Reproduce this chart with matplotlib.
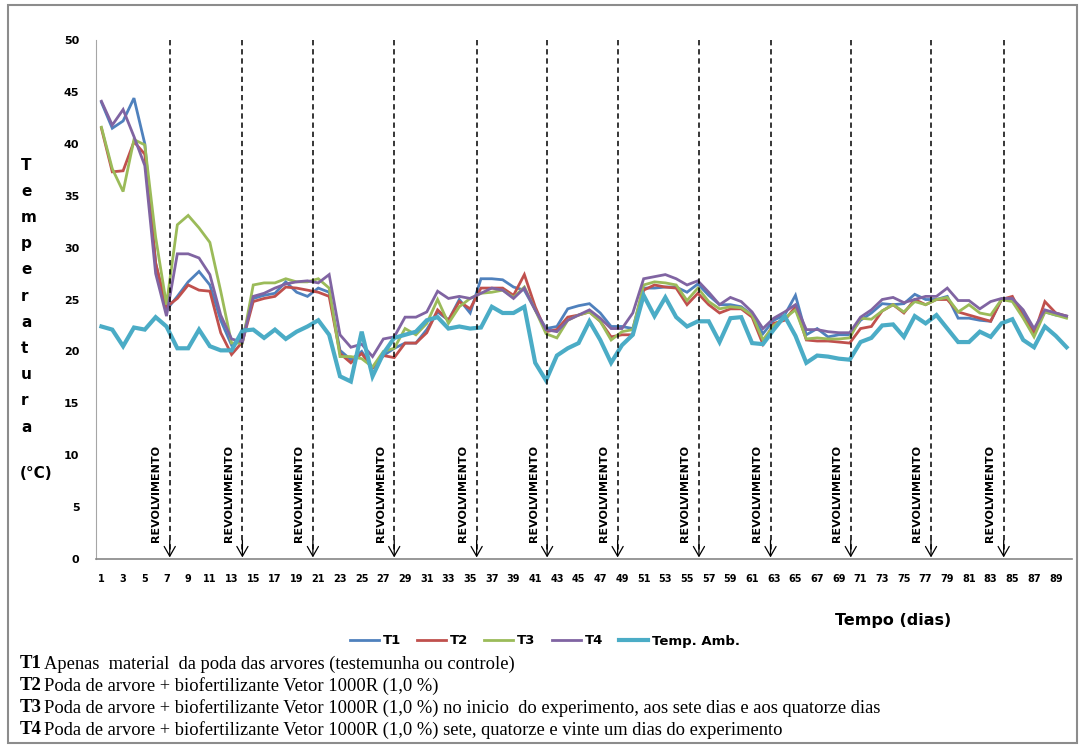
import matplotlib
matplotlib.use('Agg')
import matplotlib.pyplot as plt
from matplotlib.patches import Rectangle
import numpy as np

# dados de temperatura (dias 1 a 90)
dias = np.arange(1, 91)

t1 = [44.0, 41.5, 42.2, 44.4, 40.0, 28.5, 24.0, 25.3, 26.7, 27.7,
      26.4, 23.0, 20.6, 21.3, 25.1, 25.4, 25.6, 26.7, 25.7, 25.3,
      26.1, 25.7, 20.1, 19.2, 20.0, 18.4, 19.6, 20.3, 20.8, 20.8,
      22.1, 23.8, 23.0, 25.0, 23.7, 27.0, 27.0, 26.9, 26.2, 25.9,
      24.0, 22.2, 22.4, 24.1, 24.4, 24.6, 23.7, 22.4, 22.4, 22.2,
      26.1, 26.1, 26.2, 26.2, 25.7, 26.5, 25.4, 24.5, 24.5, 24.3,
      23.5, 21.7, 23.0, 23.5, 25.4, 21.6, 22.2, 21.4, 21.6, 21.6,
      23.0, 23.7, 24.6, 24.5, 24.6, 25.5, 25.0, 25.0, 25.3, 23.2,
      23.2, 23.0, 22.9, 25.0, 25.0, 23.7, 21.9, 23.8, 23.5, 23.4]

t2 = [41.5, 37.3, 37.4, 40.2, 39.0, 28.5, 24.3, 25.1, 26.4, 25.9,
      25.8, 21.8, 19.7, 20.9, 24.8, 25.1, 25.3, 26.2, 26.1, 25.9,
      25.7, 25.3, 19.8, 18.9, 19.8, 18.4, 19.6, 19.4, 20.8, 20.8,
      21.8, 24.0, 23.0, 24.8, 24.1, 26.1, 26.1, 26.1, 25.4, 27.4,
      24.3, 21.9, 22.1, 23.3, 23.5, 23.8, 22.9, 21.4, 21.6, 21.6,
      25.9, 26.4, 26.2, 26.1, 24.5, 25.6, 24.5, 23.7, 24.1, 24.1,
      23.3, 20.7, 22.7, 23.0, 24.3, 21.1, 21.0, 21.0, 20.9, 20.8,
      22.2, 22.4, 23.9, 24.5, 23.7, 25.0, 24.5, 25.0, 25.0, 23.8,
      23.5, 23.2, 22.9, 25.0, 25.3, 23.3, 21.7, 24.8, 23.7, 23.4]

t3 = [41.6, 37.6, 35.4, 40.4, 39.9, 31.0, 24.5, 32.2, 33.1, 31.9,
      30.5, 25.8, 20.8, 20.8, 26.4, 26.6, 26.6, 27.0, 26.7, 26.7,
      27.0, 26.1, 19.5, 19.5, 19.3, 18.5, 20.0, 20.3, 22.2, 21.6,
      22.7, 25.0, 22.7, 24.3, 25.1, 25.6, 25.7, 25.9, 25.2, 26.2,
      24.0, 21.7, 21.3, 23.0, 23.5, 23.8, 22.9, 21.1, 21.9, 22.1,
      26.4, 26.7, 26.6, 26.4, 24.9, 26.1, 24.8, 24.1, 24.3, 24.2,
      23.5, 21.1, 22.5, 23.2, 24.0, 21.2, 21.3, 21.2, 21.2, 21.3,
      23.2, 23.1, 23.9, 24.5, 23.8, 24.8, 24.5, 25.0, 25.2, 23.8,
      24.5, 23.7, 23.5, 25.0, 24.8, 23.2, 21.4, 23.8, 23.5, 23.2]

t4 = [44.1, 41.8, 43.3, 40.7, 37.9, 27.5, 23.4, 29.4, 29.4, 29.0,
      27.4, 23.5, 21.2, 20.9, 25.3, 25.6, 26.1, 26.5, 26.7, 26.8,
      26.6, 27.4, 21.6, 20.4, 20.7, 19.5, 21.2, 21.4, 23.3, 23.3,
      23.8, 25.8, 25.1, 25.3, 25.1, 25.6, 26.1, 25.9, 25.1, 26.1,
      24.0, 22.1, 21.9, 23.0, 23.5, 24.0, 23.2, 22.2, 22.2, 23.7,
      27.0, 27.2, 27.4, 27.0, 26.4, 26.8, 25.7, 24.5, 25.2, 24.8,
      23.8, 22.2, 23.2, 23.8, 24.5, 22.1, 22.1, 21.9, 21.8, 21.8,
      23.3, 24.0, 25.0, 25.2, 24.7, 25.0, 25.3, 25.3, 26.1, 24.9,
      24.9, 24.1, 24.8, 25.1, 25.1, 24.0, 22.2, 24.0, 23.7, 23.4]

amb = [22.4, 22.1, 20.5, 22.3, 22.1, 23.3, 22.4, 20.3, 20.3, 22.1,
       20.5, 20.1, 20.1, 22.0, 22.1, 21.3, 22.1, 21.2, 21.9, 22.4,
       23.0, 21.6, 17.6, 17.1, 21.9, 17.6, 19.8, 21.3, 21.6, 21.9,
       23.0, 23.3, 22.2, 22.4, 22.2, 22.3, 24.3, 23.7, 23.7, 24.3,
       18.9, 17.2, 19.6, 20.3, 20.8, 22.9, 21.1, 18.9, 20.6, 21.6,
       25.4, 23.4, 25.2, 23.3, 22.4, 22.9, 22.9, 20.9, 23.2, 23.3,
       20.8, 20.7, 22.1, 23.4, 21.5, 18.9, 19.6, 19.5, 19.3, 19.2,
       20.9, 21.3, 22.5, 22.6, 21.4, 23.4, 22.7, 23.5, 22.2, 20.9,
       20.9, 21.9, 21.4, 22.7, 23.1, 21.1, 20.4, 22.4, 21.5, 20.4]

# posicoes dos revolvimentos (dias)
revolvimento_days = [7.3, 14.0, 20.5, 28.0, 35.6, 42.1, 48.6, 56.1, 62.7, 70.1, 77.5, 84.2]

series_names = ['T1', 'T2', 'T3', 'T4', 'Temp. Amb.']
series_colors = ['#4F81BD', '#C0504D', '#9BBB59', '#8064A2', '#4BACC6']

legenda = [
    ('T1', 'Apenas  material  da poda das arvores (testemunha ou controle)'),
    ('T2', 'Poda de arvore + biofertilizante Vetor 1000R (1,0 %)'),
    ('T3', 'Poda de arvore + biofertilizante Vetor 1000R (1,0 %) no inicio  do experimento, aos sete dias e aos quatorze dias'),
    ('T4', 'Poda de arvore + biofertilizante Vetor 1000R (1,0 %) sete, quatorze e vinte um dias do experimento'),
]

W, H = 1083, 747
fig = plt.figure(figsize=(W / 100, H / 100), dpi=100)
fig.patch.set_facecolor('white')

# moldura externa
fig.patches.append(Rectangle((8 / W, 4 / H), 1069 / W, 738 / H, transform=fig.transFigure,
                             fill=False, edgecolor='#8c8c8c', linewidth=1.5))

ax = fig.add_axes([96 / W, 1 - 559 / H, 976 / W, 519 / H])

all_series = [t1, t2, t3, t4, amb]
for vals, name, col in zip(all_series, series_names, series_colors):
    lw = 3.0 if name == 'Temp. Amb.' else 2.0
    ax.plot(dias, vals, color=col, linewidth=lw, label=name, solid_joinstyle='miter')

for d in revolvimento_days:
    ax.plot([d, d], [50, 0.6], color='black', linestyle=(0, (3.5, 2.5)), linewidth=1.1, zorder=5)
    ax.annotate('', xy=(d, 0.15), xytext=(d, 1.8),
                arrowprops=dict(arrowstyle='->, head_length=0.7, head_width=0.4',
                                color='black', linewidth=0.9, shrinkA=0, shrinkB=0),
                zorder=6)
    ax.text(d - 1.25, 1.6, 'REVOLVIMENTO', rotation=90, ha='center', va='bottom',
            fontsize=8, fontweight='bold', color='black', zorder=6)

ax.set_xlim(0.5, 90.5)
ax.set_ylim(0, 50)
ax.set_xticks(np.arange(1, 90, 2))
ax.set_yticks(np.arange(0, 51, 5))
ax.tick_params(axis='x', length=0, pad=11, labelsize=7)
ax.tick_params(axis='y', length=0, pad=12, labelsize=8)
for lab in ax.get_xticklabels() + ax.get_yticklabels():
    lab.set_fontweight('bold')
for s in ['top', 'right']:
    ax.spines[s].set_visible(False)
ax.spines['left'].set_color('#a6a6a6')
ax.spines['bottom'].set_color('#868686')
ax.spines['bottom'].set_linewidth(1.2)

# rotulo vertical do eixo y
letras = list('Temperatura')
for i, ch in enumerate(letras):
    fig.text(21 / W, 1 - (165 + i * 26.2) / H, ch, ha='left', va='center',
             fontsize=11, fontweight='bold')
fig.text(20 / W, 1 - 473 / H, '(°C)', ha='left', va='center', fontsize=11, fontweight='bold')

fig.text(893 / W, 1 - 621 / H, 'Tempo (dias)', ha='center', va='center',
         fontsize=11.5, fontweight='bold')

handles, labels = ax.get_legend_handles_labels()
fig.legend(handles, labels, loc='center', bbox_to_anchor=(545 / W, 1 - 641 / H), ncol=5,
           frameon=False, handlelength=2.2, handletextpad=0.3, columnspacing=1.2,
           prop={'weight': 'bold', 'size': 9.5})

for i, (cod, desc) in enumerate(legenda):
    y = 1 - (664 + i * 22) / H
    fig.text(20 / W, y, cod, ha='left', va='center', fontsize=13.5,
             fontweight='bold', family='Liberation Serif')
    fig.text(44 / W, y, desc, ha='left', va='center', fontsize=13.3,
             family='Liberation Serif')

fig.savefig('out.png', dpi=100)
